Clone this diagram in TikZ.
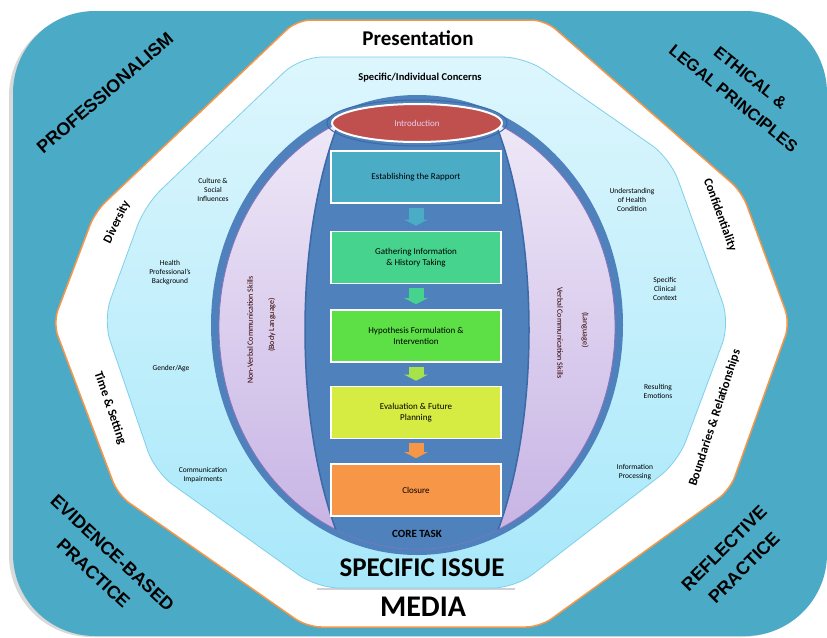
\documentclass[tikz,border=0pt]{standalone}
\usepackage{fontspec}
\setmainfont{Carlito}
\newfontfamily\arialfont{Liberation Sans}
\usetikzlibrary{shapes.geometric,arrows.meta}
\definecolor{tealc}{HTML}{4BAAC6}
\definecolor{orangec}{HTML}{F79646}
\definecolor{lbtop}{HTML}{DDF6FD}
\definecolor{lbbot}{HTML}{A8E8FA}
\definecolor{lbedge}{HTML}{7FD0E8}
\definecolor{globec}{HTML}{4F81BD}
\definecolor{globedark}{HTML}{3C6AA6}
\definecolor{lavtop}{HTML}{F0EAF8}
\definecolor{lavbot}{HTML}{C6B2E4}
\definecolor{lavedge}{HTML}{8D72B8}
\definecolor{redc}{HTML}{C0504D}
\definecolor{boxa}{HTML}{4BACC6}
\definecolor{boxb}{HTML}{46D38E}
\definecolor{boxc}{HTML}{5CE046}
\definecolor{boxd}{HTML}{D6EC42}
\definecolor{boxe}{HTML}{F79646}
\definecolor{arrc}{HTML}{A6E24A}
\definecolor{introtext}{HTML}{E8CFF0}
\begin{document}
\begin{tikzpicture}[x=1pt,y=-1pt,
  boxs/.style={draw=white, line width=1.6pt, minimum width=170pt, minimum height=52pt, align=center, font=\fontsize{9}{11}\selectfont, text=black, inner sep=2pt},
  flow/.style={line width=15pt, -{Triangle[width=23pt,length=6pt]}, shorten <=4pt, shorten >=5pt},
  lbl/.style={font=\fontsize{7.5}{9}\selectfont, align=center, text=black, inner sep=0pt},
  band/.style={font=\bfseries\fontsize{12.5}{14}\selectfont, text=black, inner sep=0pt},
  corner/.style={font=\arialfont\bfseries\fontsize{18}{28}\selectfont, align=center, text=black, inner sep=0pt},
  cornersm/.style={font=\arialfont\bfseries\fontsize{16.5}{27}\selectfont, align=center, text=black, inner sep=0pt},
  cres/.style={font=\fontsize{8}{9}\selectfont, text=black!80!red, inner sep=0pt},
]
\useasboundingbox (0,0) rectangle (827,637);
\fill[white] (0,0) rectangle (827,637);
% outer frame
\fill[black!15, rounded corners=82pt] (9,14) rectangle (824,637);
\fill[tealc, rounded corners=82pt] (13,11) rectangle (827,636);
% white octagon
\draw[orangec, fill=white, line width=1.5pt, rounded corners=14pt]
  (297,20) -- (545,20) -- (742,192) -- (790,323) -- (730,490) -- (540,627)
  -- (307,627) -- (118,495) -- (53,323) -- (95,212) -- cycle;
% light blue inner shape
\draw[black!18, line width=2pt] (317,589) -- (515,589);
\path[draw=lbedge, line width=0.8pt, top color=lbtop, bottom color=lbbot, rounded corners=22pt]
  (300,57) -- (525,57) -- (670,158) -- (730,323) -- (678,462) -- (515,588)
  -- (317,588) -- (155,472) -- (103,320) -- (145,205) -- cycle;
% globe
\fill[globec] (417,325) ellipse [x radius=206, y radius=230];
\path[draw=lavedge, line width=0.8pt, top color=lavtop, bottom color=lavbot] (417,327) ellipse [x radius=198, y radius=222];
\begin{scope}
  \clip (417,327) ellipse [x radius=198, y radius=222];
  \draw[fill=globec, draw=globedark, line width=1.5pt] (417,330) ellipse [x radius=112, y radius=290];
\end{scope}
\draw[globedark, line width=1pt] (417,123) ellipse [x radius=90, y radius=23];
\node[ellipse, fill=redc, draw=white, line width=2pt, minimum width=170pt, minimum height=38pt, inner sep=0pt, text=introtext, font=\fontsize{9}{11}\selectfont] (intro) at (417,123) {Introduction};
% core task boxes
\node[boxs, fill=boxa] (b1) at (416,177) {Establishing the Rapport};
\node[boxs, fill=boxb] (b2) at (416,257.5) {Gathering Information\\\& History Taking};
\node[boxs, fill=boxc] (b3) at (416,336) {Hypothesis Formulation \&\\Intervention};
\node[boxs, fill=boxd] (b4) at (416,412.5) {Evaluation \& Future\\Planning};
\node[boxs, fill=boxe] (b5) at (416,490) {Closure};
\draw[flow, boxa] (b1.south) -- (b2.north);
\draw[flow, boxb] (b2.south) -- (b3.north);
\draw[flow, arrc] (b3.south) -- (b4.north);
\draw[flow, boxe] (b4.south) -- (b5.north);
% crescent texts
\node[cres, rotate=90] (cl1) at (250,330) {Non-Verbal Communication Skills};
\node[cres, rotate=90] (cl2) at (272,325) {(Body Language)};
\node[cres, rotate=-90] (cr1) at (560,333) {Verbal Communication Skills};
\node[cres, rotate=-90] (cr2) at (585,330) {(Language)};
% main titles
\node[font=\bfseries\fontsize{21}{24}\selectfont] (pres) at (418,38) {Presentation};
\node[font=\bfseries\fontsize{10.5}{12}\selectfont] (conc) at (420,78) {Specific/Individual Concerns};
\node[font=\bfseries\fontsize{11}{13}\selectfont] (core) at (417,534) {CORE TASK};
\node[font=\bfseries\fontsize{27}{30}\selectfont] (issue) at (422,568) {SPECIFIC ISSUE};
\node[font=\bfseries\fontsize{30}{32}\selectfont] (media) at (423,607) {MEDIA};
% side labels in light blue
\node[lbl] (l1) at (213,190) {Culture \&\\Social\\Influences};
\node[lbl] (l2) at (170,273) {Health\\Professional's\\Background};
\node[lbl] (l3) at (171,369) {Gender/Age};
\node[lbl] (l4) at (203,475) {Communication\\Impairments};
\node[lbl] (r1) at (632,200) {Understanding\\of Health\\Condition};
\node[lbl] (r2) at (665,289) {Specific\\Clinical\\Context};
\node[lbl] (r3) at (658,391) {Resulting\\Emotions};
\node[lbl] (r4) at (635,472) {Information\\Processing};
% white band labels
\node[band, rotate=64] (wl1) at (117,222) {Diversity};
\node[band, rotate=-71] (wl2) at (110,408) {Time \& Setting};
\node[band, rotate=-70] (wr1) at (720,215) {Confidentiality};
\node[band, rotate=72] (wr2) at (715,418) {Boundaries \& Relationships};
% corner labels
\node[corner, rotate=41] (c1) at (105,93) {PROFESSIONALISM};
\node[cornersm, rotate=-39] (c2) at (742,88) {ETHICAL \&\\LEGAL PRINCIPLES};
\node[corner, rotate=-43] (c3) at (103,563) {EVIDENCE-BASED\\PRACTICE};
\node[corner, rotate=45] (c4) at (734,558) {REFLECTIVE\\PRACTICE};
\end{tikzpicture}
\end{document}
